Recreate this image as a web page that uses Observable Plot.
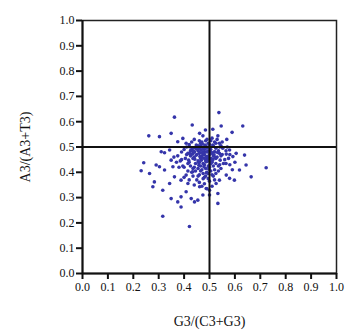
<!DOCTYPE html>
<html><head><meta charset="utf-8">
<script src="https://cdn.jsdelivr.net/npm/d3@7"></script>
<script src="https://cdn.jsdelivr.net/npm/@observablehq/plot@0.6"></script>
<style>body{margin:0;background:#fff}</style>
</head><body><div id="chart"></div>
<script>
const tickValues = [0,0.1,0.2,0.3,0.4,0.5,0.6,0.7,0.8,0.9,1.0];
const xLabel = "G3/(C3+G3)";
const yLabel = "A3/(A3+T3)";
const crossX = 0.5, crossY = 0.5;
const gx = [0.362,0.537,0.432,0.631,0.349,0.303,0.261,0.546,0.589,0.461,0.474,0.395,0.375,0.408,0.533,0.568,0.513,0.484,
0.310,0.323,0.343,0.421,0.448,0.461,0.487,0.513,0.539,0.552,0.579,0.605,0.638,0.421,0.441,0.480,0.520,0.539,0.566,0.592,
0.241,0.231,0.264,0.290,0.303,0.323,0.349,0.356,0.362,0.343,0.283,0.277,0.316,0.349,0.388,0.375,0.388,0.408,0.428,0.454,0.441,0.474,0.500,0.533,0.533,0.526,0.539,0.566,0.579,0.598,0.618,0.644,0.664,0.723,0.316,0.421,0.487,0.500,0.461,0.415,0.388,0.408,0.434,
0.45,0.47,0.48,0.49,0.50,0.51,0.46,0.44,0.43,0.52,0.53,0.48,0.47,0.50,0.49,0.46,0.44,0.42,0.41,0.45,0.47,0.50,0.52,0.54,0.55,0.56,0.54,0.52,0.51,0.48,0.45,0.43,0.40,0.39,0.40,0.42,0.44,0.46,0.48,0.49,0.495,0.505,0.485,0.475,0.465,0.455,0.515,0.525,0.535,0.505,0.495,0.485,0.475,0.465,0.455,0.445,0.435,0.425,0.435,0.445,0.465,0.475,0.485,0.495,0.515,0.525,0.545,0.555,0.535,0.525,0.515,0.505,0.495,0.485,0.475,0.465,0.455,0.445,0.435,0.425,0.415,0.405,0.415,0.425,0.435,0.455,0.465,0.485,0.505,0.525,0.545,0.565,0.575,0.565,0.545,0.535,0.525,0.515,0.495,0.475,0.455,0.435,0.415,0.395,0.385,0.375,0.39,0.38,0.37,0.36,0.46,0.48,0.50,0.52,0.51,0.49,0.47,0.44,0.42,0.40,0.58,0.59,0.60,0.58,0.57,0.55,0.53,0.51,0.49,0.46,0.43,0.41,0.495,0.505,0.51,0.48,0.47,0.46,0.50,0.49,
0.452,0.468,0.478,0.488,0.498,0.508,0.518,0.462,0.472,0.482,0.492,0.502,0.512,0.458,0.448,0.438,0.468,0.478,0.488,0.498,0.458,0.468,0.478,0.488,0.498,0.508,0.442,0.432,0.452,0.462,0.472,0.482,0.492,0.502,0.512,0.522,0.428,0.418,0.532,0.542];
const ay = [0.618,0.636,0.587,0.583,0.554,0.541,0.544,0.583,0.558,0.554,0.544,0.534,0.521,0.515,0.544,0.530,0.570,0.567,
0.481,0.477,0.488,0.501,0.508,0.495,0.501,0.508,0.515,0.495,0.488,0.475,0.468,0.475,0.481,0.481,0.481,0.475,0.472,0.462,
0.438,0.406,0.395,0.429,0.422,0.409,0.448,0.422,0.382,0.356,0.362,0.343,0.329,0.296,0.303,0.283,0.263,0.323,0.296,0.290,0.283,0.310,0.310,0.316,0.277,0.356,0.369,0.389,0.376,0.369,0.409,0.429,0.382,0.418,0.226,0.186,0.336,0.329,0.343,0.356,0.369,0.389,0.402,
0.47,0.46,0.49,0.45,0.47,0.44,0.44,0.46,0.49,0.48,0.46,0.43,0.41,0.42,0.40,0.39,0.42,0.44,0.47,0.50,0.52,0.51,0.52,0.50,0.47,0.45,0.43,0.41,0.39,0.38,0.37,0.40,0.42,0.45,0.49,0.51,0.53,0.48,0.47,0.48,0.46,0.49,0.445,0.475,0.455,0.485,0.465,0.455,0.485,0.435,0.425,0.415,0.435,0.425,0.445,0.435,0.455,0.465,0.475,0.495,0.505,0.495,0.505,0.515,0.505,0.495,0.465,0.435,0.425,0.435,0.425,0.405,0.395,0.385,0.395,0.405,0.415,0.405,0.415,0.425,0.435,0.455,0.475,0.485,0.495,0.505,0.515,0.525,0.525,0.515,0.505,0.485,0.455,0.435,0.415,0.405,0.395,0.385,0.375,0.375,0.385,0.385,0.405,0.425,0.445,0.465,0.48,0.42,0.44,0.46,0.36,0.355,0.365,0.37,0.345,0.335,0.345,0.35,0.37,0.38,0.43,0.41,0.44,0.47,0.50,0.52,0.53,0.535,0.53,0.525,0.52,0.50,0.445,0.455,0.475,0.455,0.465,0.475,0.485,0.495,
0.492,0.488,0.472,0.462,0.452,0.478,0.468,0.502,0.512,0.508,0.482,0.492,0.452,0.438,0.468,0.482,0.448,0.432,0.442,0.418,0.428,0.458,0.422,0.398,0.412,0.442,0.452,0.472,0.492,0.462,0.478,0.502,0.462,0.432,0.448,0.458,0.488,0.448,0.478,0.448];
const points = gx.map((x,i)=>({x, y: ay[i]}));
const fmt = d3.format(".1f");
const chart = Plot.plot({
  width: 345, height: 335,
  marginLeft: 82, marginRight: 9, marginTop: 20, marginBottom: 62,
  style: {fontFamily: "'Liberation Serif', 'DejaVu Serif', serif", fontSize: "12px", color: "#111", background: "#fff"},
  x: {domain: [0,1]},
  y: {domain: [0,1]},
  marks: [
    Plot.frame({stroke: "#222", strokeWidth: 1.5}),
    Plot.axisX({ticks: tickValues, tickFormat: fmt, tickSize: 6, tickPadding: 3, strokeWidth: 2, fontSize: 12,
      label: xLabel, labelAnchor: "center", labelArrow: "none", labelOffset: 52}),
    Plot.axisY({ticks: tickValues, tickFormat: fmt, tickSize: 6, tickPadding: 2, strokeWidth: 2, fontSize: 12,
      label: yLabel, labelAnchor: "center", labelArrow: "none", labelOffset: 62}),
    Plot.dot(points, {x: "x", y: "y", r: 1.8, fill: "#3535aa", stroke: null}),
    Plot.ruleX([crossX], {stroke: "#111", strokeWidth: 2}),
    Plot.ruleY([crossY], {stroke: "#111", strokeWidth: 2}),
    Plot.ruleX([0], {stroke: "#111", strokeWidth: 2}),
    Plot.ruleY([0], {stroke: "#111", strokeWidth: 2})
  ]
});
chart.querySelectorAll("g[aria-label$='axis label'] text").forEach(t => t.style.fontSize = "14px");
document.getElementById("chart").appendChild(chart);
</script></body></html>
